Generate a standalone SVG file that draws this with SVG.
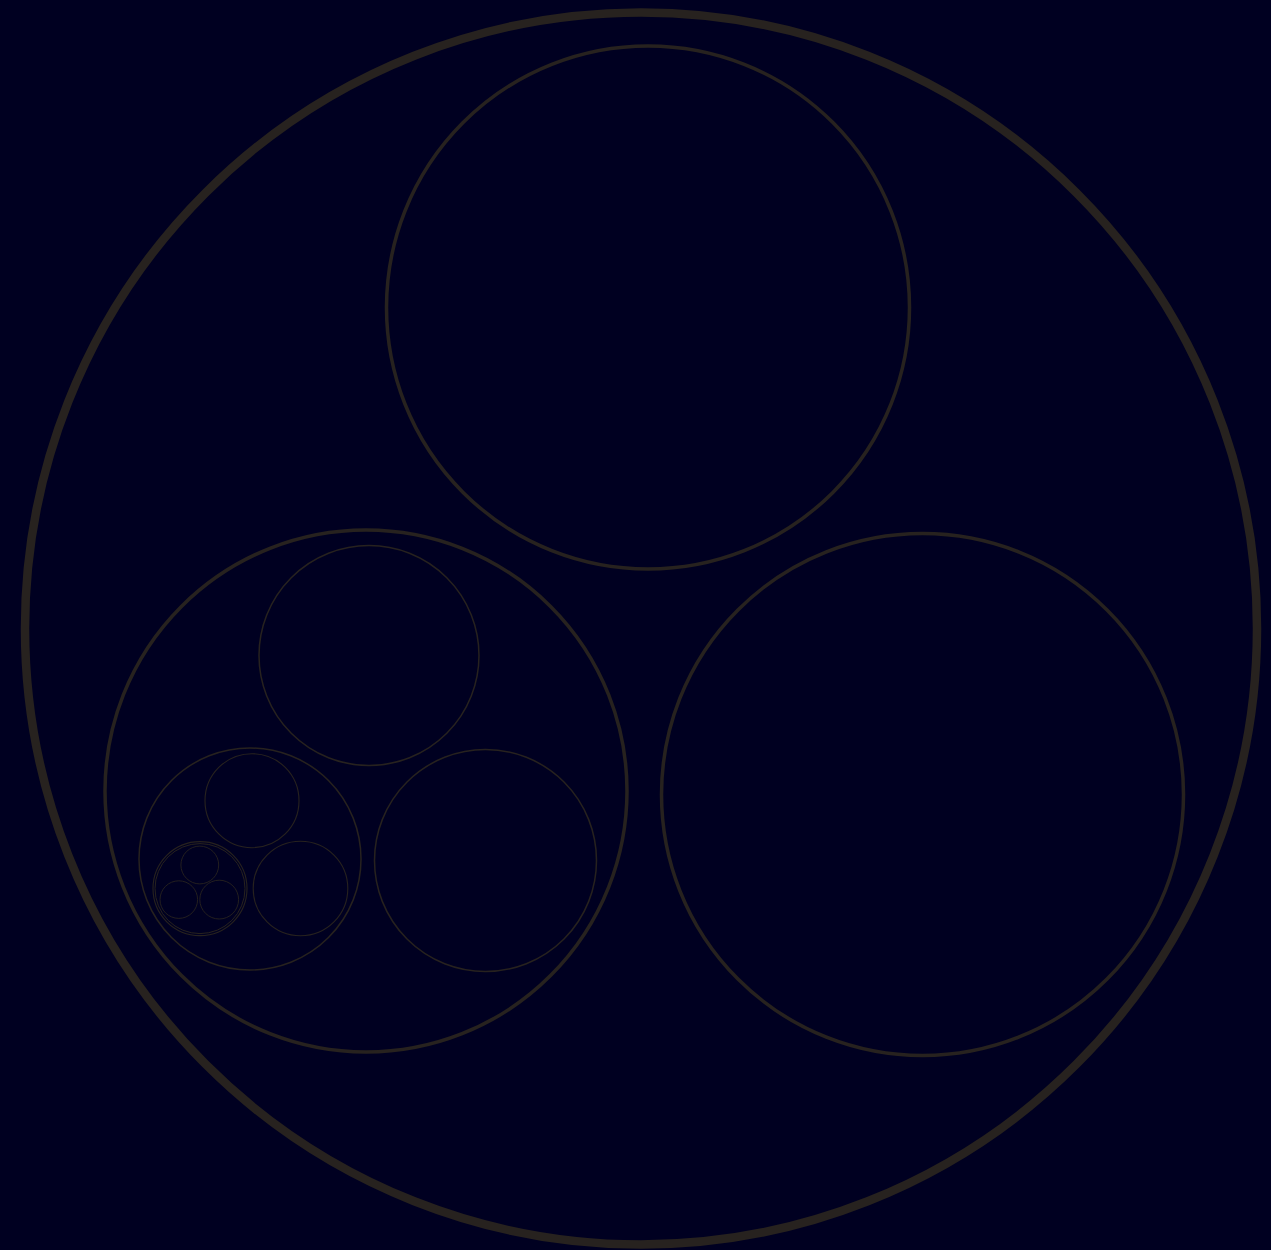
<svg xmlns="http://www.w3.org/2000/svg" width="1271" height="1250" viewBox="0 0 1271 1250">
<style>
circle{fill:none;stroke:#27221f}
.d0{stroke-width:8.5}
.d1{stroke-width:3.5}
.d2{stroke-width:1.5}
.d3{stroke-width:1.1}
.d4{stroke-width:1}
.d5{stroke-width:0.9}
</style>
<rect width="1271" height="1250" fill="#000021"/>
<g id="root"><circle class="d0" cx="641" cy="628.5" r="616"/></g>
<g id="n-top"><circle class="d1" cx="648" cy="307.5" r="261.5"/></g>
<g id="n-right"><circle class="d1" cx="922.5" cy="794.5" r="261"/></g>
<g id="n-left"><circle class="d1" cx="366" cy="791" r="261"/></g>
<g id="n-left-top"><circle class="d2" cx="369" cy="655.5" r="110"/></g>
<g id="n-left-right"><circle class="d2" cx="485.5" cy="860.5" r="111"/></g>
<g id="n-left-left"><circle class="d2" cx="250" cy="859" r="111"/></g>
<g id="n-ll-top"><circle class="d3" cx="252" cy="800.7" r="47"/></g>
<g id="n-ll-right"><circle class="d3" cx="300.5" cy="888.5" r="47.3"/></g>
<g id="n-ll-cluster"><circle class="d3" cx="200" cy="888.6" r="47"/></g>
<g id="n-ll-cluster-inner"><circle class="d4" cx="200" cy="888.6" r="45"/></g>
<g id="n-leaf-1"><circle class="d5" cx="199.8" cy="865" r="18.9"/></g>
<g id="n-leaf-2"><circle class="d5" cx="178.8" cy="899.6" r="18.8"/></g>
<g id="n-leaf-3"><circle class="d5" cx="219.2" cy="899.6" r="19.4"/></g>
<g id="connectors"></g>
</svg>
